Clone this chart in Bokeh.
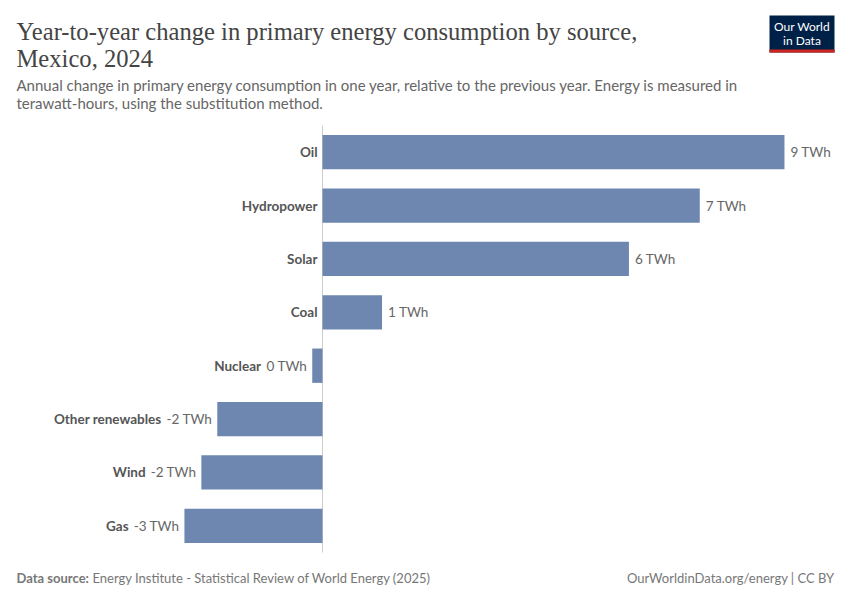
from bokeh.plotting import figure
from bokeh.models import ColumnDataSource, Range1d, Label, BoxAnnotation
from bokeh.embed import file_html
from bokeh.resources import INLINE
from bokeh.core.properties import value

categories = ["Oil", "Hydropower", "Solar", "Coal", "Nuclear", "Other renewables", "Wind", "Gas"]
values = [9.0, 7.35, 5.97, 1.16, -0.20, -2.05, -2.36, -2.69]
unit = "TWh"

FONT = "Lato"
BAR = "#6d87b1"
LSIZE = 13.5

# approximate Lato regular advance widths (em)
CW = {"0": 0.58, "1": 0.58, "2": 0.58, "3": 0.58, "4": 0.58, "5": 0.58, "6": 0.58,
      "7": 0.58, "8": 0.58, "9": 0.58, " ": 0.193, "T": 0.56, "W": 0.93, "h": 0.565, "-": 0.34}


def text_w(s, size=LSIZE):
    return sum(CW.get(c, 0.55) for c in s) * size


n = len(categories)
ypos = [n - i - 0.5 for i in range(n)]  # category slots, Oil on top
val_labels = [f"{int(round(v))} {unit}" for v in values]

cat_x, cat_off, val_off, val_align = [], [], [], []
for v, lab in zip(values, val_labels):
    if v >= 0:
        cat_x.append(0)
        cat_off.append(-5)
        val_off.append(6)
        val_align.append("left")
    else:
        cat_x.append(v)
        cat_off.append(-(5 + text_w(lab) + 8))
        val_off.append(-5)
        val_align.append("right")

src = ColumnDataSource(dict(cat=categories, y=ypos, val=values, lab=val_labels, cx=cat_x,
                            coff=cat_off, voff=val_off, valign=val_align))

W, H = 850, 600
# chart area: x page 16..834 with zero at 322 (51.33 px/TWh); y page 125..552
PX = 51.33
SLOT = (552 - 125) / n
x_range = Range1d(-322 / PX, (W - 322) / PX)
y_range = Range1d(-(H - 552) / SLOT, n + 125 / SLOT)

p = figure(width=W, height=H, output_backend="svg", toolbar_location=None,
           x_range=x_range, y_range=y_range, x_axis_location=None, y_axis_location=None,
           min_border_left=0, min_border_right=0, min_border_top=0, min_border_bottom=0)
p.outline_line_color = None
p.xgrid.visible = False
p.ygrid.visible = False
p.background_fill_color = "white"
p.border_fill_color = "white"

p.segment(x0=[0], y0=[0], x1=[0], y1=[n], line_color="#cccccc", line_width=1)
p.hbar(y="y", left=0, right="val", height=0.643, source=src, fill_color=BAR, line_color=None)

p.text(x="cx", y="y", text="cat", x_offset="coff", source=src, text_align="right",
       text_baseline="middle", text_font=value(FONT), text_font_style="bold",
       text_font_size=f"{LSIZE}px", text_color="#555555")
p.text(x="val", y="y", text="lab", x_offset="voff", source=src, text_align="valign",
       text_baseline="middle", text_font=value(FONT), text_font_size=f"{LSIZE}px",
       text_color="#666666")


def lab(txt, px, py, **kw):
    p.add_layout(Label(x=px, y=H - py, x_units="screen", y_units="screen", text=txt, **kw))


title_kw = dict(text_font="Liberation Serif", text_font_size="24.6px", text_color="#444444",
                text_baseline="top")
lab("Year-to-year change in primary energy consumption by source,", 16, 17, **title_kw)
lab("Mexico, 2024", 16, 44, **title_kw)
sub_kw = dict(text_font=FONT, text_font_size="15px", text_color="#666666", text_baseline="top")
lab("Annual change in primary energy consumption in one year, relative to the previous year. Energy is measured in", 16, 75, **sub_kw)
lab("terawatt-hours, using the substitution method.", 16, 93, **sub_kw)

foot_kw = dict(text_font=FONT, text_font_size="13px", text_color="#777777", text_baseline="middle")
lab("Data source:", 16, 577, text_font_style="bold", **foot_kw)
lab("Energy Institute - Statistical Review of World Energy (2025)", 92, 577, **foot_kw)
lab("OurWorldinData.org/energy | CC BY", 834, 577, text_align="right", **foot_kw)

# logo
p.add_layout(BoxAnnotation(left=769, right=834, top=H - 15, bottom=H - 52,
                           left_units="screen", right_units="screen", top_units="screen",
                           bottom_units="screen", fill_color="#002147", fill_alpha=1,
                           line_color=None, level="overlay"))
p.add_layout(BoxAnnotation(left=769, right=834, top=H - 49, bottom=H - 52,
                           left_units="screen", right_units="screen", top_units="screen",
                           bottom_units="screen", fill_color="#ce261e", fill_alpha=1,
                           line_color=None, level="overlay"))
logo_kw = dict(text_font=FONT, text_font_size="12px", text_color="white", text_align="center",
               text_baseline="middle", level="overlay")
lab("Our World", 801.5, 26, **logo_kw)
lab("in Data", 801.5, 40, **logo_kw)

open("out.html", "w").write(file_html(p, INLINE))
